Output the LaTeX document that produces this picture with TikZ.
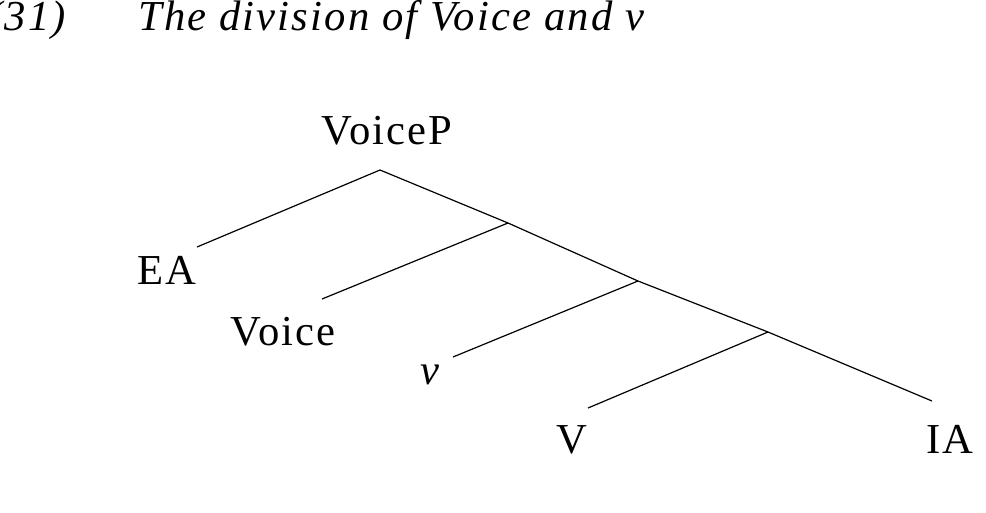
\documentclass[tikz,border=0pt]{standalone}
\usepackage{fontspec}
\setmainfont{Liberation Serif}[LetterSpace=5]
\begin{document}
\begin{tikzpicture}[x=0.75pt,y=-0.75pt,
  lbl/.style={inner sep=0pt,anchor=base,font=\fontsize{32}{36}\selectfont}]
  \useasboundingbox (0,0) rectangle (986,512);
  % title
  \node[lbl,anchor=base west] (num) at (-12,30) {\itshape (31)};
  \node[lbl,anchor=base west] (title) at (138,30) {\itshape The division of Voice and v};
  % labels
  \node[lbl] (voicep) at (387,144) {VoiceP};
  \node[lbl] (ea) at (167,284) {EA};
  \node[lbl] (voice) at (283,345) {Voice};
  \node[lbl] (v) at (430,384) {\itshape v};
  \node[lbl] (vv) at (572,453) {V};
  \node[lbl] (ia) at (950,453) {IA};
  % branch points
  \coordinate (top) at (380,170);
  \coordinate (b1) at (508,223);
  \coordinate (b2) at (638,281);
  \coordinate (b3) at (768,332);
  \coordinate (eaend) at (197,247);
  \coordinate (voiceend) at (322,299);
  \coordinate (vend) at (453,357);
  \coordinate (vvend) at (588,408);
  \coordinate (iaend) at (932,401);
  \draw[line width=0.9pt] (top) -- (eaend);
  \draw[line width=0.9pt] (top) -- (b1) -- (b2) -- (b3) -- (iaend);
  \draw[line width=0.9pt] (b1) -- (voiceend);
  \draw[line width=0.9pt] (b2) -- (vend);
  \draw[line width=0.9pt] (b3) -- (vvend);
\end{tikzpicture}
\end{document}
